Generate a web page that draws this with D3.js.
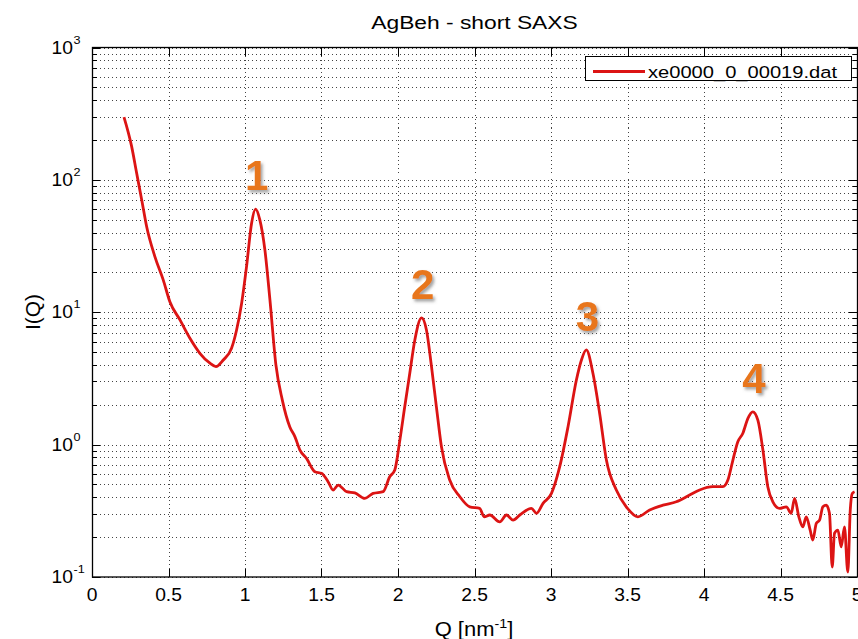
<!DOCTYPE html>
<html>
<head>
<meta charset="utf-8">
<script src="https://cdn.jsdelivr.net/npm/d3@7"></script>
<style>
  html, body { margin: 0; padding: 0; background: #fff; }
  svg { display: block; }
  text { font-family: "Liberation Sans", Arial, sans-serif; fill: #000; }
</style>
</head>
<body>
<svg id="chart" width="858" height="639"></svg>
<script>
// ---------- data ----------
const title = "AgBeh - short SAXS";
const seriesName = "xe0000_0_00019.dat";
const qValues = [0.209,0.259,0.292,0.325,0.357,0.411,0.466,0.509,0.575,0.640,0.705,0.771,0.810,0.858,0.912,0.945,0.978,1.010,1.043,1.069,1.097,1.130,1.163,1.202,1.244,1.293,1.326,1.359,1.402,1.457,1.500,1.543,1.576,1.609,1.664,1.718,1.783,1.837,1.903,1.946,1.979,2.012,2.044,2.077,2.110,2.154,2.186,2.219,2.251,2.284,2.338,2.404,2.469,2.534,2.563,2.600,2.665,2.709,2.752,2.796,2.872,2.905,2.948,3.003,3.057,3.111,3.166,3.199,3.231,3.274,3.318,3.362,3.427,3.492,3.568,3.645,3.732,3.819,3.906,3.971,4.058,4.123,4.156,4.189,4.221,4.254,4.287,4.319,4.352,4.385,4.417,4.450,4.494,4.538,4.570,4.592,4.620,4.646,4.668,4.694,4.711,4.734,4.755,4.777,4.799,4.820,4.838,4.853,4.875,4.897,4.918,4.940,4.956,4.969,4.984];
const intensity = [298,179,112,70.6,44.4,26.3,17.5,12.0,8.75,6.36,4.90,4.12,3.88,4.36,5.35,7.35,11.7,22.1,47.1,60.1,49.9,29.6,12.4,4.0,2.17,1.36,1.15,0.910,0.787,0.624,0.607,0.525,0.454,0.495,0.441,0.432,0.393,0.428,0.441,0.572,0.643,1.08,1.93,3.46,6.18,9.08,7.35,3.88,1.93,0.964,0.540,0.404,0.339,0.330,0.285,0.294,0.261,0.294,0.269,0.294,0.330,0.303,0.360,0.428,0.681,1.36,3.08,4.36,5.19,3.46,1.72,0.765,0.454,0.339,0.285,0.321,0.349,0.370,0.416,0.454,0.481,0.481,0.540,0.765,1.05,1.22,1.58,1.77,1.53,0.910,0.481,0.370,0.330,0.339,0.303,0.393,0.285,0.239,0.285,0.226,0.190,0.254,0.269,0.339,0.349,0.303,0.119,0.214,0.226,0.169,0.239,0.109,0.321,0.428,0.441];
const xTicks = [0,0.5,1,1.5,2,2.5,3,3.5,4,4.5,5];
const xTickLabels = ["0","0.5","1","1.5","2","2.5","3","3.5","4","4.5","5"];
const yDecades = [-1,0,1,2,3];
const peakLabels = ["1","2","3","4"];
const peakQ = [1.069,2.154,3.231,4.319];
const peakI = [60.1,9.08,5.19,1.77];

// ---------- layout ----------
const svg = d3.select("#chart");
const L = 92, R = 857, T = 47.5, B = 577;
const x = d3.scaleLinear().domain([0,5]).range([L,R]);
const y = d3.scaleLog().domain([0.1,1000]).range([B,T]);
const SX = 1.1; // horizontal text stretch

const defs = svg.append("defs");
const f = defs.append("filter").attr("id","shadow").attr("x","-30%").attr("y","-30%").attr("width","170%").attr("height","170%");
f.append("feDropShadow").attr("dx",2).attr("dy",2.5).attr("stdDeviation",1.4).attr("flood-color","#555").attr("flood-opacity",0.55);

// grid
const minorVals = [];
yDecades.slice(0,-1).forEach(d => { for (let k=1;k<=9;k++) minorVals.push(k*Math.pow(10,d)); });
minorVals.push(1000);
const grid = svg.append("g").attr("stroke","#444").attr("stroke-width",1).attr("stroke-dasharray","1,3").attr("shape-rendering","crispEdges");
grid.selectAll("line.h").data(minorVals).join("line")
  .attr("x1",L).attr("x2",R).attr("y1",d=>Math.round(y(d))+0.5).attr("y2",d=>Math.round(y(d))+0.5);
grid.selectAll("line.v").data(xTicks.slice(1,-1)).join("line")
  .attr("y1",T).attr("y2",B).attr("x1",d=>Math.round(x(d))+0.5).attr("x2",d=>Math.round(x(d))+0.5);

// ticks (inward, all four sides)
const ticks = svg.append("g").attr("stroke","#000").attr("stroke-width",1).attr("shape-rendering","crispEdges");
xTicks.forEach(v => {
  const px = Math.round(x(v))+0.5;
  ticks.append("line").attr("x1",px).attr("x2",px).attr("y1",B).attr("y2",B-8);
  ticks.append("line").attr("x1",px).attr("x2",px).attr("y1",T).attr("y2",T+8);
});
minorVals.forEach(v => {
  const major = Math.abs(Math.log10(v) - Math.round(Math.log10(v))) < 1e-9;
  const len = major ? 8 : 4.5;
  const py = Math.round(y(v))+0.5;
  ticks.append("line").attr("x1",L).attr("x2",L+len).attr("y1",py).attr("y2",py);
  ticks.append("line").attr("x1",R).attr("x2",R-len).attr("y1",py).attr("y2",py);
});

// frame
svg.append("rect").attr("x",L+0.5).attr("y",T).attr("width",R-L).attr("height",B-T)
  .attr("fill","none").attr("stroke","#000").attr("stroke-width",1.3);

// data line
const line = d3.line().curve(d3.curveMonotoneX).x((d,i)=>x(qValues[i])).y((d,i)=>y(intensity[i]));
svg.append("path").datum(intensity).attr("d",line)
  .attr("fill","none").attr("stroke","#dc1414").attr("stroke-width",2.8).attr("stroke-linejoin","round");

// x tick labels
svg.append("g").selectAll("text").data(xTicks).join("text")
  .attr("transform",d=>`translate(${x(d)},601) scale(${SX},1)`)
  .attr("text-anchor","middle").attr("font-size",17.5)
  .text((d,i)=>xTickLabels[i]);

// y tick labels 10^n
const yl = svg.append("g");
yDecades.forEach(d => {
  const g = yl.append("g").attr("transform",`translate(73,${y(Math.pow(10,d))+6}) scale(${SX},1)`);
  g.append("text").attr("text-anchor","end").attr("font-size",17.5).text("10");
  g.append("text").attr("x",0.5).attr("y",-10).attr("font-size",11.5).text(String(d));
});

// title
svg.append("text").attr("transform",`translate(${(L+R)/2},29) scale(1.2,1)`)
  .attr("text-anchor","middle").attr("font-size",19).text(title);

// axis labels
const xl = svg.append("text").attr("transform",`translate(474,636) scale(${SX},1)`)
  .attr("text-anchor","middle").attr("font-size",20);
xl.append("tspan").text("Q [nm");
xl.append("tspan").attr("dy",-8).attr("font-size",13).text("-1");
xl.append("tspan").attr("dy",8).text("]");
svg.append("text").attr("transform","translate(40,312) rotate(-90) scale(1.05,1)")
  .attr("text-anchor","middle").attr("font-size",20).text("I(Q)");

// legend
const lg = svg.append("g");
lg.append("rect").attr("x",585.5).attr("y",56.5).attr("width",266).attr("height",24)
  .attr("fill","#fff").attr("stroke","#000").attr("stroke-width",1);
lg.append("line").attr("x1",593).attr("x2",645).attr("y1",71.5).attr("y2",71.5)
  .attr("stroke","#dc1414").attr("stroke-width",2.8);
lg.append("text").attr("transform",`translate(648,77.5) scale(1.17,1)`)
  .attr("font-size",17.2).text(seriesName);

// peak labels
svg.append("g").selectAll("text").data(peakLabels).join("text")
  .attr("x",(d,i)=>x(peakQ[i])+1)
  .attr("y",(d,i)=>y(peakI[i]) - 19)
  .attr("text-anchor","middle")
  .attr("font-family","'Open Sans', 'DejaVu Sans', sans-serif")
  .attr("font-weight","bold").attr("font-size",42)
  .attr("filter","url(#shadow)")
  .style("fill","#e8761c")
  .text(d=>d);
</script>
</body>
</html>
